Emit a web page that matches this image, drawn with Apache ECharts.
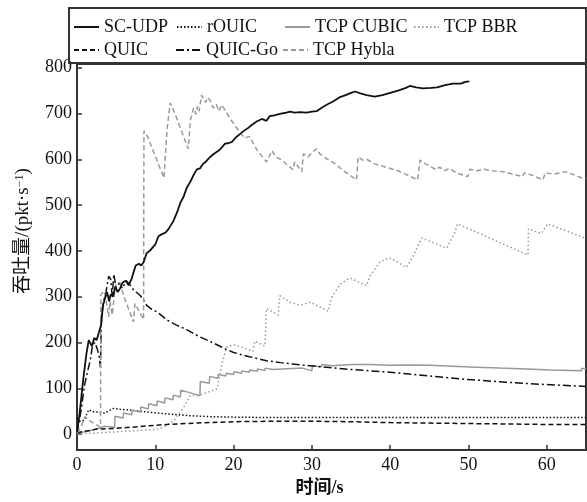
<!DOCTYPE html>
<html>
<head>
<meta charset="utf-8">
<script src="https://cdn.jsdelivr.net/npm/echarts@6/dist/echarts.min.js"></script>
<style>html,body{margin:0;padding:0;background:#fff}#c{width:587px;height:502px}</style>
</head>
<body>
<div id="c"></div>
<script>
// ---- data (time s, throughput pkt/s) ----
const xTicks = [0, 10, 20, 30, 40, 50, 60];
const yTicks = [0, 100, 200, 300, 400, 500, 600, 700, 800];
const seriesNames = ['SC-UDP', 'rOUIC', 'TCP CUBIC', 'TCP BBR', 'QUIC', 'QUIC-Go', 'TCP Hybla'];

const scUdp = [[0,5],[0.3,40],[0.8,120],[1.2,175],[1.5,205],[1.9,192],[2.2,210],[2.5,205],[2.8,222],[3.1,240],[3.3,280],[3.6,298],[3.85,310],[4.1,290],[4.3,305],[4.6,300],[4.9,322],[5.2,310],[5.5,318],[5.8,330],[6.2,335],[6.6,325],[7.0,340],[7.2,352],[7.5,368],[7.9,372],[8.2,368],[8.5,375],[8.9,395],[9.4,402],[10.0,414],[10.4,432],[10.8,436],[11.3,440],[11.7,448],[12.3,465],[12.8,485],[13.2,505],[13.6,518],[14.0,537],[14.5,552],[14.9,566],[15.3,578],[15.7,580],[16.1,590],[16.4,594],[17.0,605],[17.5,612],[18.1,619],[18.5,626],[18.9,634],[19.3,635],[19.8,638],[20.3,648],[20.8,655],[21.3,662],[21.9,669],[22.4,676],[23.0,683],[23.6,688],[24.2,684],[24.6,694],[25.2,696],[25.9,699],[26.5,701],[27.2,704],[27.8,702],[28.5,703],[29.3,702],[30.0,704],[30.6,705],[31.2,712],[32.0,720],[32.7,726],[33.5,735],[34.3,740],[35.0,745],[35.5,748],[36.2,744],[37.0,740],[38.0,737],[39.0,740],[40.0,745],[41.0,750],[42.0,756],[42.5,760],[43.3,757],[44.2,755],[45.2,756],[46.0,757],[47.0,762],[48.0,765],[49.0,765],[49.6,769],[50.1,770]];

const rOuic = [[0,35],[0.4,28],[0.9,30],[1.5,53],[2.2,48],[3.0,48],[3.5,46],[4.3,53],[4.7,56],[5.5,54],[7.0,52],[9.0,48],[11.5,44],[14.5,40],[17.0,38],[20.0,37],[25.0,36],[30.0,36],[40.0,36],[50.0,36],[60.0,36],[65.0,36]];

const tcpCubic = [[0,2],[1,5],[2,9],[3,14],[3.5,17],[4.8,15],[4.85,39],[5.9,35],[5.95,46],[7.0,42],[7.05,52],[8.1,48],[8.15,59],[9.1,55],[9.15,66],[10.2,62],[10.25,72],[11.2,68],[11.25,79],[12.25,75],[12.3,85],[13.2,81],[13.25,96],[15.7,84],[15.75,115],[16.9,111],[16.95,126],[18.0,122],[18.05,130],[19.0,127],[19.05,133],[20.0,130],[20.05,136],[21.0,133],[21.05,138],[22.0,135],[22.05,140],[23.0,137],[23.05,142],[24.0,139],[24.05,144],[25.0,141],[25.05,145],[26.2,142],[26.25,146],[27.5,143],[27.55,147],[28.8,144],[28.85,146],[30.0,138],[30.05,149],[31.2,147],[31.25,152],[32.6,149],[32.65,153],[34.0,151],[34.05,154],[35.4,152],[35.45,155],[37.6,152],[37.65,155],[39.9,150],[39.95,154],[42.3,151],[42.35,154],[45.0,150],[45.05,152],[48.0,148],[48.05,150],[51.0,146],[51.05,148],[54.0,144],[54.05,146],[57.5,142],[57.55,144],[60.5,140],[60.55,142],[64.4,138],[64.45,143],[65,143]];

const tcpBbr = [[0,0],[2,2],[5,5],[8,8],[10,10],[11,15],[12.3,28],[13.5,55],[14.5,85],[15.5,84],[16.5,90],[17.9,99],[18.5,153],[19.1,190],[20,195],[21,190],[22.5,181],[22.7,203],[24,192],[24.2,274],[25.7,260],[25.9,302],[27.2,288],[28.5,281],[29.8,288],[32.1,268],[32.5,298],[33.6,327],[34.8,341],[37.0,324],[37.4,345],[38.7,376],[39.9,385],[42.1,364],[42.9,388],[44.0,428],[47.2,406],[48.2,438],[48.6,459],[57.6,391],[57.65,448],[59.3,438],[60.1,459],[65,427]];

const quic = [[0,3],[1,6],[2.6,11],[4.3,12],[7,15],[9,18],[11.5,21],[15,24],[20,27],[25,28],[30,28],[35,27],[40,25],[45,24],[50,23],[55,22],[60,21],[65,21]];

const quicGo = [[0,2],[0.5,50],[1.0,110],[1.4,140],[1.7,162],[2.0,195],[2.3,200],[2.6,185],[2.8,172],[3.0,145],[3.1,250],[3.4,290],[3.7,310],[4.05,345],[4.3,338],[4.5,300],[4.7,349],[5.0,320],[5.4,330],[5.8,318],[6.3,335],[6.8,325],[7.2,315],[7.7,308],[8.1,302],[8.5,292],[8.9,281],[9.5,273],[10.2,267],[11.5,249],[12.7,238],[14.0,228],[15.7,212],[17.4,199],[18.7,188],[20.0,178],[22.0,169],[24.2,160],[26.0,156],[28.5,151],[31.0,147],[35.0,141],[40.0,135],[45.0,127],[50.0,119],[55.0,113],[60.0,108],[65.0,104]];

const tcpHybla = [[0,3],[0.5,15],[1.0,38],[1.5,30],[2.0,25],[2.5,20],[3.0,15],[3.05,305],[3.5,312],[4.05,256],[4.2,290],[4.5,260],[4.9,324],[5.5,330],[6.0,300],[7.2,245],[7.4,285],[8.5,250],[8.55,662],[9.0,650],[11.1,559],[11.5,665],[11.9,723],[12.5,700],[14.2,623],[14.5,687],[14.9,712],[15.2,698],[15.4,716],[15.6,705],[15.9,740],[16.4,724],[16.7,735],[17.0,729],[17.4,712],[17.8,720],[18.1,705],[18.5,719],[19.5,690],[20.8,659],[21.4,646],[22.0,650],[23.0,620],[24.2,594],[24.9,619],[25.4,605],[26.0,600],[27.6,577],[27.8,594],[28.7,573],[28.9,612],[29.5,605],[30.0,615],[30.6,623],[31.0,612],[32.0,600],[33.0,590],[34.0,575],[35.7,555],[35.9,605],[36.5,598],[37.0,600],[38.0,590],[39.0,585],[40.0,580],[41.0,575],[42.0,567],[43.5,555],[43.8,598],[44.5,590],[45.9,577],[46.3,583],[47.0,575],[47.5,580],[48.5,570],[49.9,562],[50.2,578],[51.0,575],[52.0,578],[53.0,575],[54.4,573],[56.0,566],[56.9,562],[57.1,570],[58.0,566],[59.5,555],[59.8,570],[61.0,568],[62.4,573],[64.5,559],[65.0,558]];

// ---- chart ----
const FONT = "'Liberation Serif', 'Times New Roman', 'Noto Sans CJK SC', serif";
const BLACK = '#111';
const GRAY = '#999';

const styles = {
  'SC-UDP':    {color: BLACK, width: 1.8, type: 'solid'},
  'rOUIC':     {color: BLACK, width: 1.5, type: [1.5, 2]},
  'TCP CUBIC': {color: GRAY,  width: 1.5, type: 'solid'},
  'TCP BBR':   {color: GRAY,  width: 1.5, type: [1.5, 2.5]},
  'QUIC':      {color: BLACK, width: 1.5, type: [5, 3]},
  'QUIC-Go':   {color: BLACK, width: 1.5, type: [8, 3, 2, 3]},
  'TCP Hybla': {color: GRAY,  width: 1.5, type: [5, 3]}
};
const dataMap = {
  'SC-UDP': scUdp, 'rOUIC': rOuic, 'TCP CUBIC': tcpCubic, 'TCP BBR': tcpBbr,
  'QUIC': quic, 'QUIC-Go': quicGo, 'TCP Hybla': tcpHybla
};

const legendPos = {
  'SC-UDP': [73, 18], 'rOUIC': [176, 18], 'TCP CUBIC': [284, 18], 'TCP BBR': [413, 18],
  'QUIC': [73, 41], 'QUIC-Go': [175, 41], 'TCP Hybla': [282, 41]
};

const legends = seriesNames.map(n => ({
  data: [n], left: legendPos[n][0], top: legendPos[n][1], padding: 0,
  itemWidth: 25, itemHeight: 14, selectedMode: false,
  itemStyle: {opacity: 0},
  textStyle: {fontFamily: FONT, fontSize: 18, color: '#111'}
}));

const series = seriesNames.map(n => ({
  name: n, type: 'line', data: dataMap[n], symbol: 'none', showSymbol: false,
  lineStyle: {color: styles[n].color, width: styles[n].width, type: styles[n].type},
  itemStyle: {color: styles[n].color},
  z: n === 'SC-UDP' ? 5 : 3
}));

const chart = echarts.init(document.getElementById('c'), null, {renderer: 'canvas'});
chart.setOption({
  animation: false,
  backgroundColor: '#fff',
  legend: legends,
  grid: {left: 77, right: 1, top: 64, bottom: 44, show: true, borderColor: '#333', borderWidth: 2},
  graphic: [{
    type: 'rect', shape: {x: 69, y: 8, width: 517, height: 55},
    style: {fill: 'none', stroke: '#333', lineWidth: 2}, z: 10
  }],
  xAxis: {
    type: 'value', min: 0, max: 65,
    name: '时间/s', nameLocation: 'middle', nameGap: 23,
    nameTextStyle: {fontFamily: FONT, fontSize: 18, color: '#111', fontWeight: 'bold', padding: [0, 24, 0, 0]},
    axisLine: {show: true, onZero: false, lineStyle: {color: '#333', width: 2}},
    axisTick: {show: true, inside: true, length: 5, customValues: xTicks, lineStyle: {color: '#333', width: 1.5}},
    axisLabel: {customValues: xTicks, fontFamily: FONT, fontSize: 18, color: '#111', margin: 6},
    splitLine: {show: false}
  },
  yAxis: {
    type: 'value', min: -35, max: 808,
    name: '{a|吞吐量/(pkt·s}{b|−1}{a|)}', nameLocation: 'middle', nameGap: 44,
    nameTextStyle: {
      padding: [0, 0, 0, 52],
      rich: {
        a: {fontFamily: FONT, fontSize: 19, color: '#111'},
        b: {fontFamily: FONT, fontSize: 12, color: '#111', verticalAlign: 'top', lineHeight: 12}
      }
    },
    axisLine: {show: true, onZero: false, lineStyle: {color: '#333', width: 2}},
    axisTick: {show: true, inside: true, length: 5, customValues: yTicks, lineStyle: {color: '#333', width: 1.5}},
    axisLabel: {customValues: yTicks, fontFamily: FONT, fontSize: 18, color: '#111', margin: 5},
    splitLine: {show: false}
  },
  series: series
});
</script>
</body>
</html>
